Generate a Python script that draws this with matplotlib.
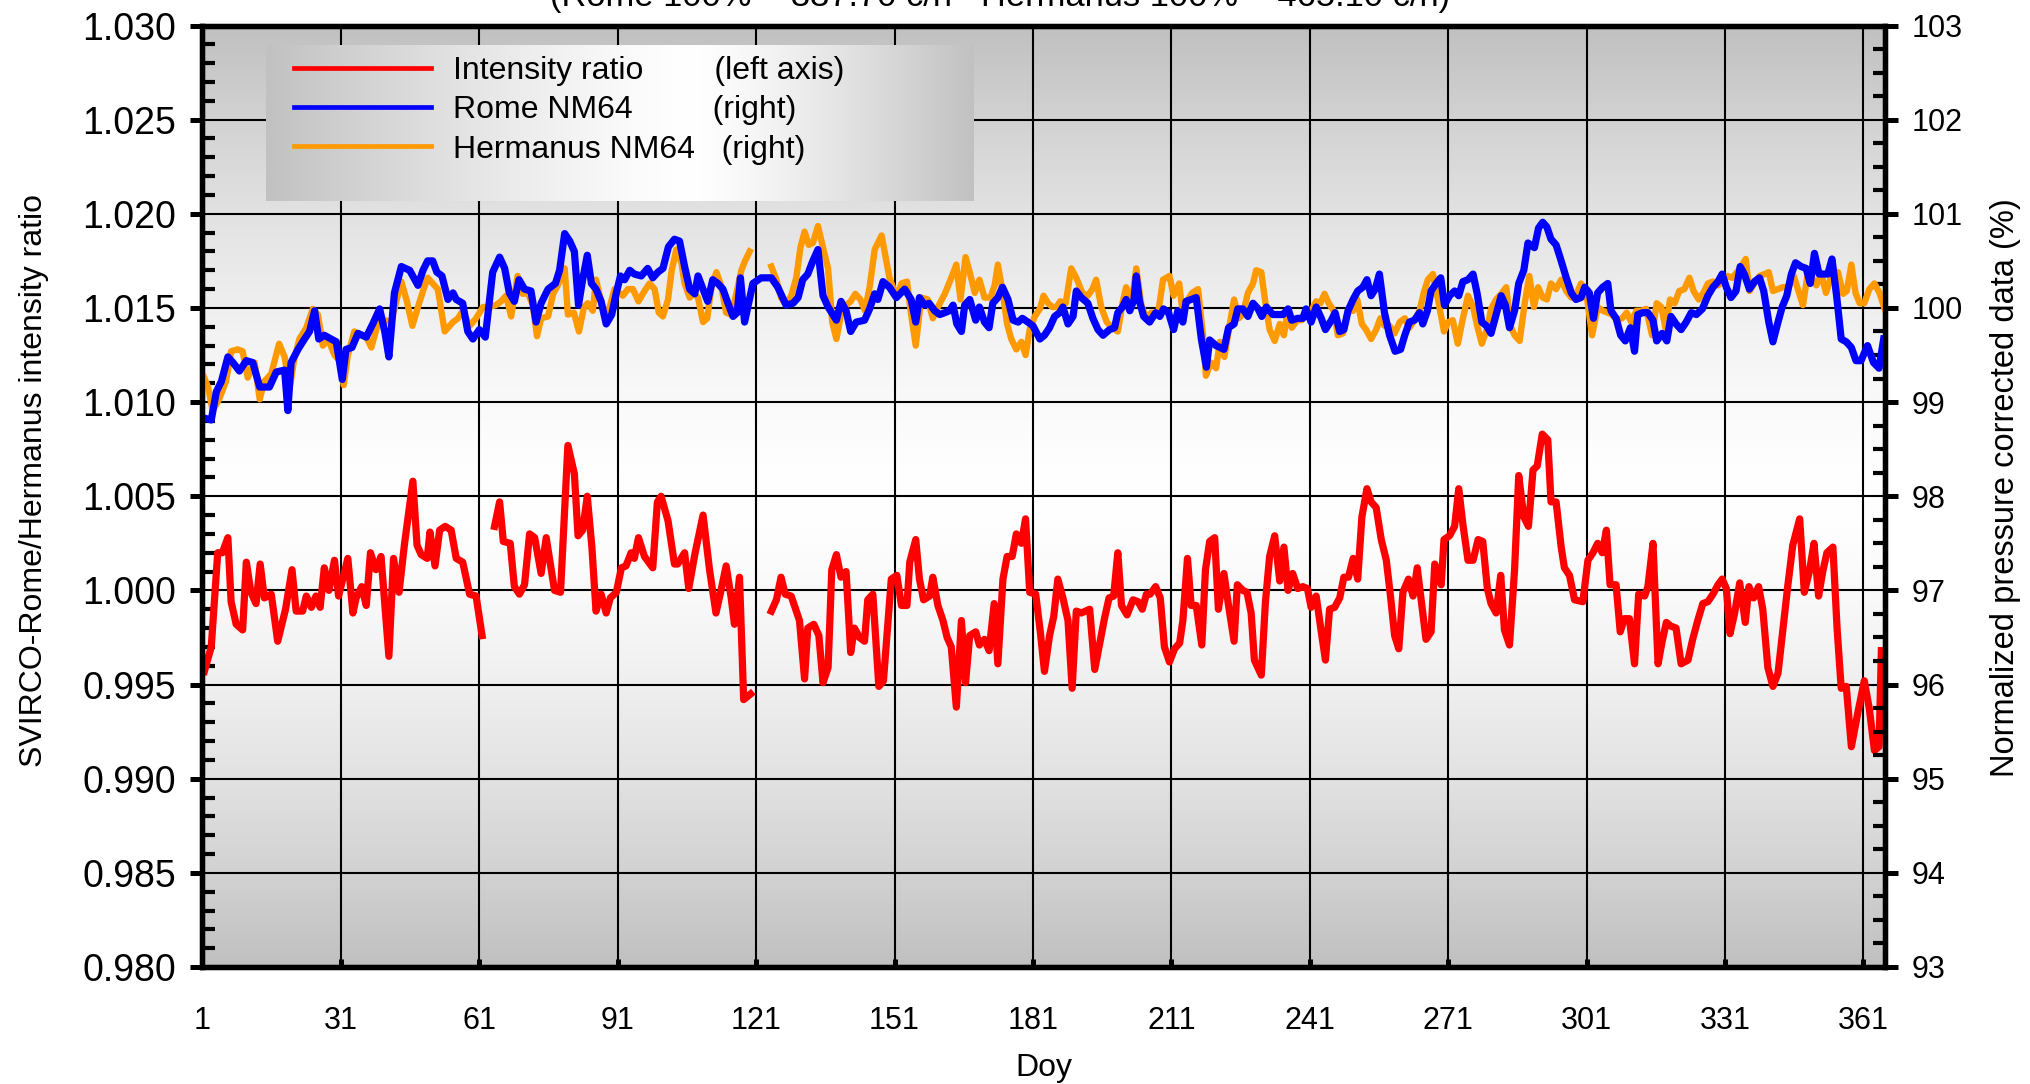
import numpy as np
import matplotlib
matplotlib.use("Agg")
import matplotlib.pyplot as plt
from matplotlib.lines import Line2D
from matplotlib.ticker import MultipleLocator, FixedLocator

plt.rcParams["font.family"] = ["Liberation Sans", "DejaVu Sans"]

# ── Data ───────────────────────────────────────────────────────────────────

# SVIRCO-Rome / Hermanus intensity ratio (left axis); NaN = data gap
ratio_doy = [1.4, 2.9, 4.3, 5.3, 6.5, 7.2, 8.3, 9.7, 10.5, 11.5, 12.6, 13.5, 14.4, 15.9, 17.3, 19.0,
             20.4, 21.3, 22.7, 23.5, 24.6, 25.6, 26.5, 27.4, 28.4, 29.6, 30.5, 32.5, 33.6, 34.3, 35.5,
             36.5, 37.4, 38.6, 39.7, 41.4, 42.4, 43.6, 44.8, 46.6, 47.5, 48.4, 49.7, 50.3, 51.4, 52.4,
             53.6, 54.9, 56.0, 57.4, 58.9, 60.3, 61.6, 63.0, 64.3, 65.4, 66.2, 67.7, 68.6, 69.7, 70.8,
             71.9, 73.0, 74.4, 75.5, 77.3, 78.6, 80.2, 81.6, 82.4, 83.4, 84.4, 85.4, 86.3, 87.4, 88.5,
             89.4, 90.7, 91.8, 92.8, 93.9, 94.6, 95.5, 96.8, 98.6, 99.6, 100.4, 101.9, 103.3, 104.0,
             105.5, 106.4, 107.7, 109.5, 110.9, 112.3, 113.3, 114.5, 115.6, 116.3, 117.4, 118.3, 119.8,
             122.0, 124.3, 125.4, 126.4, 127.3, 128.6, 130.4, 131.5, 132.2, 133.5, 134.6, 135.5, 136.6,
             137.4, 138.4, 139.4, 140.5, 141.5, 142.3, 143.4, 144.5, 145.2, 146.3, 147.6, 148.6, 150.3,
             151.5, 152.5, 153.7, 154.3, 155.6, 156.4, 157.3, 158.6, 159.3, 160.4, 161.5, 162.4, 163.3,
             164.4, 165.5, 166.4, 167.3, 168.6, 169.4, 170.5, 171.5, 172.6, 173.4, 174.5, 175.4, 176.5,
             177.4, 178.5, 179.4, 180.3, 181.6, 182.6, 183.5, 184.6, 185.5, 186.4, 187.5, 188.6, 189.5,
             190.4, 191.5, 193.3, 194.4, 195.5, 196.5, 197.5, 198.5, 199.4, 200.2, 201.4, 202.7, 203.8,
             204.7, 205.6, 206.4, 207.6, 208.6, 209.5, 210.6, 211.7, 212.8, 213.5, 214.5, 215.3, 216.4,
             217.6, 218.4, 219.3, 220.4, 221.2, 222.4, 223.4, 224.6, 225.3, 226.5, 227.4, 228.3, 229.0,
             230.5, 231.4, 232.3, 233.4, 234.5, 235.4, 236.3, 237.3, 238.4, 239.5, 240.5, 241.3, 242.4,
             243.5, 244.4, 245.3, 246.4, 247.5, 248.4, 249.4, 250.4, 251.4, 252.3, 253.4, 254.3, 255.4,
             256.5, 257.6, 258.5, 259.4, 260.3, 261.2, 262.4, 263.4, 264.3, 265.3, 266.2, 267.3, 268.1,
             269.5, 270.1, 271.3, 272.4, 273.3, 274.2, 275.3, 276.4, 277.5, 278.5, 279.5, 280.3, 281.4,
             282.4, 283.2, 284.3, 285.4, 286.3, 287.4, 288.4, 289.4, 290.3, 291.4, 292.6, 293.3, 294.4,
             295.5, 296.2, 297.3, 298.4, 300.2, 301.3, 302.4, 303.4, 304.4, 305.3, 306.1, 307.4, 308.3,
             309.2, 310.3, 311.4, 312.3, 313.6, 314.3, 315.4, 316.5, 317.4, 318.3, 319.3, 320.4, 321.5,
             323.0, 324.0, 325.1, 326.2, 327.3, 328.4, 329.5, 330.4, 331.3, 332.1, 333.1, 334.2, 335.4,
             336.2, 337.2, 338.3, 339.2, 340.3, 341.4, 342.5, 343.5, 344.6, 345.7, 347.2, 348.2, 349.3,
             350.3, 351.3, 352.2, 353.1, 354.4, 355.3, 356.2, 357.3, 358.4, 359.8, 361.2, 362.3, 363.4,
             364.4, 364.9]
ratio_val = [0.9957, 0.9970, 1.0020, 1.0020, 1.0028, 0.9994, 0.9982, 0.9979, 1.0015, 0.9999, 0.9993,
             1.0014, 0.9996, 0.9998, 0.9973, 0.9990, 1.0011, 0.9989, 0.9989, 0.9997, 0.9991, 0.9997,
             0.9991, 1.0012, 1.0000, 1.0016, 0.9997, 1.0017, 0.9988, 0.9996, 1.0002, 0.9992, 1.0020,
             1.0011, 1.0018, 0.9965, 1.0017, 0.9999, 1.0025, 1.0058, 1.0024, 1.0019, 1.0017, 1.0031,
             1.0013, 1.0032, 1.0034, 1.0032, 1.0017, 1.0015, 0.9998, 0.9997, 0.9976, np.nan, 1.0034,
             1.0047, 1.0026, 1.0025, 1.0002, 0.9998, 1.0003, 1.0030, 1.0028, 1.0009, 1.0028, 1.0000,
             0.9999, 1.0077, 1.0062, 1.0029, 1.0032, 1.0050, 1.0023, 0.9989, 0.9998, 0.9988, 0.9996,
             0.9999, 1.0012, 1.0013, 1.0020, 1.0017, 1.0028, 1.0018, 1.0012, 1.0047, 1.0050, 1.0037,
             1.0014, 1.0014, 1.0020, 1.0001, 1.0019, 1.0040, 1.0011, 0.9988, 0.9999, 1.0013, 0.9996,
             0.9982, 1.0007, 0.9942, 0.9945, np.nan, 0.9989, 0.9995, 1.0007, 0.9998, 0.9997, 0.9984,
             0.9953, 0.9980, 0.9982, 0.9976, 0.9951, 0.9959, 1.0011, 1.0019, 1.0007, 1.0010, 0.9967,
             0.9980, 0.9975, 0.9973, 0.9995, 0.9998, 0.9949, 0.9952, 1.0006, 1.0008, 0.9992, 0.9992,
             1.0015, 1.0027, 1.0006, 0.9995, 0.9997, 1.0007, 0.9992, 0.9984, 0.9975, 0.9970, 0.9938,
             0.9984, 0.9951, 0.9976, 0.9978, 0.9971, 0.9974, 0.9968, 0.9993, 0.9961, 1.0006, 1.0018,
             1.0018, 1.0030, 1.0025, 1.0038, 0.9999, 0.9998, 0.9978, 0.9957, 0.9976, 0.9986, 1.0006,
             0.9996, 0.9984, 0.9948, 0.9989, 0.9988, 0.9990, 0.9958, 0.9972, 0.9985, 0.9996, 0.9997,
             1.0020, 0.9992, 0.9987, 0.9995, 0.9994, 0.9990, 0.9998, 0.9998, 1.0002, 0.9996, 0.9970,
             0.9962, 0.9969, 0.9972, 0.9984, 1.0017, 0.9992, 0.9992, 0.9971, 1.0011, 1.0026, 1.0028,
             0.9990, 1.0009, 0.9992, 0.9973, 1.0003, 1.0000, 0.9999, 0.9988, 0.9963, 0.9955, 0.9994,
             1.0018, 1.0029, 1.0005, 1.0023, 1.0000, 1.0009, 1.0001, 1.0002, 1.0001, 0.9991, 0.9997,
             0.9978, 0.9963, 0.9990, 0.9991, 0.9996, 1.0007, 1.0007, 1.0017, 1.0006, 1.0039, 1.0054,
             1.0047, 1.0044, 1.0027, 1.0016, 0.9997, 0.9976, 0.9969, 0.9999, 1.0006, 0.9997, 1.0012,
             0.9992, 0.9974, 0.9978, 1.0014, 1.0003, 1.0027, 1.0029, 1.0034, 1.0054, 1.0035, 1.0016,
             1.0016, 1.0027, 1.0026, 1.0001, 0.9993, 0.9988, 1.0008, 0.9979, 0.9971, 1.0011, 1.0061,
             1.0039, 1.0034, 1.0064, 1.0066, 1.0083, 1.0080, 1.0047, 1.0047, 1.0023, 1.0012, 1.0008,
             0.9995, 0.9994, 1.0016, 1.0020, 1.0025, 1.0020, 1.0032, 1.0003, 1.0003, 0.9978, 0.9985,
             0.9985, 0.9961, 0.9998, 0.9997, 1.0002, 1.0025, 0.9961, 0.9973, 0.9983, 0.9981, 0.9980,
             0.9961, 0.9963, 0.9974, 0.9984, 0.9993, 0.9994, 0.9998, 1.0003, 1.0006, 1.0001, 0.9977,
             0.9988, 1.0004, 0.9983, 1.0002, 0.9996, 1.0002, 0.9990, 0.9959, 0.9949, 0.9956, 0.9978,
             1.0002, 1.0024, 1.0038, 0.9999, 1.0010, 1.0025, 0.9997, 1.0010, 1.0020, 1.0023, 0.9980,
             0.9948, 0.9949, 0.9917, 0.9935, 0.9952, 0.9937, 0.9915, 0.9917, 0.9968]

# Rome NM64, normalized pressure corrected (%), right axis
rome_doy = [1.4, 2.9, 4.0, 5.1, 6.5, 7.6, 9.0, 10.5, 11.9, 13.4, 15.5, 17.0, 18.8, 19.5, 20.2, 21.7,
            23.1, 24.2, 25.3, 26.2, 27.4, 28.9, 30.0, 31.3, 32.1, 33.4, 34.7, 36.5, 37.9, 39.4, 40.5,
            41.4, 42.6, 44.1, 45.9, 47.7, 48.8, 49.8, 50.9, 51.8, 52.9, 54.2, 55.3, 56.0, 57.4, 58.5,
            59.6, 61.0, 62.3, 63.9, 65.4, 66.5, 67.5, 68.6, 69.6, 70.8, 72.2, 73.3, 74.4, 75.9, 77.5,
            78.4, 79.5, 80.6, 81.6, 82.5, 83.4, 84.4, 85.3, 86.3, 87.4, 88.5, 89.7, 90.7, 91.6, 92.5,
            93.6, 94.6, 96.1, 97.5, 98.6, 99.7, 100.8, 102.0, 103.3, 104.4, 105.5, 106.6, 107.7, 108.4,
            109.5, 110.5, 111.6, 112.7, 113.8, 114.9, 116.0, 116.9, 117.6, 118.5, 120.3, 122.1, 124.3,
            125.7, 127.5, 129.0, 130.1, 131.1, 132.2, 133.3, 134.4, 135.5, 136.6, 138.4, 139.4, 140.5,
            141.5, 142.7, 144.5, 145.6, 146.7, 147.4, 148.5, 149.9, 151.4, 153.2, 154.6, 155.6, 156.4,
            157.5, 158.5, 159.7, 160.8, 161.9, 162.9, 163.7, 164.5, 165.5, 166.2, 167.3, 168.6, 169.4,
            170.5, 171.5, 172.3, 173.4, 174.4, 175.6, 176.7, 177.8, 178.7, 179.9, 181.0, 182.5, 183.5,
            184.6, 185.7, 186.8, 187.5, 188.6, 189.7, 190.4, 191.5, 192.9, 194.0, 195.1, 196.2, 197.6,
            198.7, 199.4, 200.4, 201.2, 202.0, 202.9, 203.4, 204.1, 205.0, 206.3, 207.6, 208.5, 209.3,
            210.4, 211.5, 212.4, 213.5, 214.2, 215.3, 216.4, 217.5, 218.6, 219.3, 220.7, 222.4, 223.4,
            224.6, 225.4, 226.5, 227.6, 228.7, 229.8, 230.6, 231.6, 233.0, 235.2, 236.3, 237.1, 238.4,
            239.5, 240.2, 241.3, 242.4, 243.5, 244.4, 245.7, 246.5, 247.5, 248.4, 249.3, 250.4, 251.4,
            252.5, 253.4, 254.3, 255.2, 256.1, 257.2, 258.3, 259.5, 260.7, 261.6, 262.6, 263.7, 264.8,
            265.5, 266.5, 267.3, 268.4, 269.4, 270.2, 271.3, 272.4, 273.3, 274.2, 275.3, 276.4, 277.3,
            278.3, 279.3, 280.3, 281.4, 282.5, 283.4, 284.3, 285.4, 286.3, 287.4, 288.3, 289.7, 290.6,
            291.5, 292.4, 293.3, 294.4, 295.5, 296.6, 297.7, 298.7, 299.8, 300.6, 301.6, 302.5, 303.4,
            304.5, 305.6, 306.3, 307.4, 308.4, 309.4, 310.5, 311.4, 312.1, 313.2, 314.3, 315.4, 316.2,
            317.4, 318.4, 319.3, 320.4, 321.5, 322.6, 323.7, 324.8, 326.1, 327.3, 328.4, 329.5, 330.4,
            331.3, 332.3, 333.4, 334.3, 335.2, 336.3, 337.4, 338.5, 339.4, 340.5, 341.4, 342.5, 343.4,
            344.4, 345.4, 346.3, 347.5, 348.6, 349.5, 350.4, 351.4, 352.2, 353.3, 354.2, 355.2, 356.2,
            357.3, 358.4, 359.4, 360.5, 361.9, 363.2, 364.4, 365.4]
rome_val = [98.83, 98.81, 99.11, 99.22, 99.48, 99.42, 99.33, 99.44, 99.42, 99.16, 99.16, 99.32, 99.34,
            98.91, 99.42, 99.56, 99.67, 99.75, 99.97, 99.67, 99.71, 99.67, 99.64, 99.24, 99.56, 99.58,
            99.73, 99.69, 99.83, 99.99, 99.75, 99.48, 100.16, 100.44, 100.40, 100.24, 100.40, 100.50,
            100.50, 100.38, 100.34, 100.09, 100.16, 100.09, 100.05, 99.75, 99.67, 99.77, 99.69, 100.38,
            100.54, 100.42, 100.16, 100.07, 100.30, 100.20, 100.18, 99.85, 100.05, 100.20, 100.26,
            100.40, 100.79, 100.71, 100.60, 100.03, 100.30, 100.56, 100.26, 100.20, 100.07, 99.83,
            99.93, 100.16, 100.34, 100.30, 100.40, 100.36, 100.34, 100.42, 100.32, 100.38, 100.42,
            100.65, 100.73, 100.71, 100.44, 100.20, 100.15, 100.34, 100.20, 100.07, 100.30, 100.26,
            100.20, 100.05, 99.91, 99.95, 100.32, 99.85, 100.26, 100.32, 100.32, 100.22, 100.03, 100.05,
            100.11, 100.30, 100.36, 100.50, 100.62, 100.13, 100.01, 99.87, 100.07, 99.97, 99.75, 99.85,
            99.87, 99.99, 100.15, 100.09, 100.28, 100.22, 100.11, 100.20, 100.09, 99.85, 100.11, 100.03,
            100.05, 99.97, 99.93, 99.95, 99.97, 100.03, 99.83, 99.75, 100.03, 100.09, 99.87, 100.01,
            99.85, 99.79, 100.05, 100.11, 100.22, 100.09, 99.87, 99.85, 99.89, 99.85, 99.81, 99.67,
            99.71, 99.79, 99.91, 99.95, 100.01, 99.83, 99.91, 100.18, 100.11, 100.05, 99.89, 99.77,
            99.71, 99.77, 99.79, 99.95, 100.01, 100.09, 99.97, 100.09, 100.34, 100.07, 99.91, 99.85,
            99.95, 99.91, 99.99, 99.95, 99.77, 99.97, 99.85, 100.07, 100.09, 100.11, 99.67, 99.37,
            99.66, 99.60, 99.56, 99.79, 99.83, 99.99, 99.99, 99.91, 100.05, 99.99, 99.91, 100.01, 99.93,
            99.93, 99.99, 99.87, 99.89, 99.89, 99.99, 99.85, 100.01, 99.89, 99.77, 99.87, 99.95, 99.75,
            99.77, 99.97, 100.09, 100.18, 100.22, 100.30, 100.13, 100.20, 100.36, 99.95, 99.71, 99.54,
            99.56, 99.71, 99.85, 99.87, 99.95, 99.83, 99.97, 100.18, 100.26, 100.32, 100.03, 100.13,
            100.18, 100.13, 100.28, 100.30, 100.36, 100.15, 99.85, 99.81, 99.73, 99.93, 100.13, 100.03,
            99.79, 99.97, 100.26, 100.40, 100.69, 100.64, 100.85, 100.91, 100.86, 100.73, 100.67,
            100.50, 100.32, 100.16, 100.09, 100.11, 100.22, 100.16, 99.89, 100.16, 100.22, 100.26,
            99.97, 99.89, 99.71, 99.65, 99.79, 99.54, 99.93, 99.95, 99.95, 99.87, 99.65, 99.73, 99.65,
            99.91, 99.83, 99.77, 99.85, 99.95, 99.93, 99.99, 100.13, 100.22, 100.28, 100.36, 100.22,
            100.11, 100.18, 100.44, 100.36, 100.20, 100.28, 100.32, 100.18, 99.85, 99.64, 99.85,
            100.01, 100.13, 100.36, 100.48, 100.44, 100.42, 100.26, 100.58, 100.36, 100.36, 100.36,
            100.52, 100.13, 99.67, 99.64, 99.58, 99.44, 99.44, 99.60, 99.42, 99.36, 99.67]

# Hermanus NM64, normalized pressure corrected (%), right axis; NaN = data gap
herm_doy = [1.2, 2.2, 3.2, 4.6, 6.1, 7.2, 8.6, 9.7, 10.8, 12.3, 13.4, 14.4, 15.9, 17.6, 18.8, 19.9,
            20.9, 22.0, 23.5, 24.9, 26.0, 27.1, 28.2, 29.6, 30.7, 31.6, 32.5, 33.9, 35.4, 36.5, 37.6,
            39.0, 40.5, 41.9, 43.0, 44.1, 45.2, 46.5, 47.7, 48.8, 49.8, 50.9, 52.0, 53.5, 55.3, 56.4,
            57.4, 58.9, 60.3, 61.8, 63.2, 64.6, 65.7, 66.8, 67.9, 69.3, 70.4, 71.5, 72.6, 73.5, 74.4,
            75.9, 77.0, 78.0, 79.5, 80.2, 81.5, 82.6, 83.7, 84.5, 85.6, 86.3, 87.4, 88.5, 90.3, 92.1,
            93.2, 94.3, 95.5, 96.8, 97.9, 99.0, 99.9, 100.8, 101.9, 102.7, 103.7, 104.8, 105.5, 106.6,
            107.5, 108.4, 109.5, 110.4, 111.3, 112.4, 113.4, 114.5, 115.6, 116.7, 117.8, 118.6, 119.6,
            122.0, 124.3, 125.4, 126.4, 127.5, 128.6, 129.7, 130.6, 131.5, 132.4, 133.3, 134.4, 135.7,
            136.6, 137.5, 138.4, 139.4, 140.5, 141.5, 142.5, 143.6, 144.6, 145.6, 146.7, 148.2, 149.9,
            151.5, 152.5, 153.7, 154.6, 155.6, 156.8, 158.2, 159.3, 160.4, 161.9, 163.3, 164.4, 165.3,
            166.4, 167.4, 168.4, 169.4, 170.5, 171.8, 172.7, 173.4, 174.4, 175.4, 176.3, 177.4, 178.5,
            179.4, 180.3, 181.4, 182.5, 183.3, 184.3, 185.2, 186.1, 186.9, 188.1, 189.3, 190.4, 191.7,
            192.9, 193.9, 194.7, 195.8, 197.0, 198.2, 199.4, 200.4, 201.2, 202.3, 203.4, 204.5, 205.6,
            206.7, 208.1, 209.2, 210.6, 211.5, 212.7, 213.5, 214.6, 215.5, 216.8, 217.9, 218.5, 219.6,
            220.7, 221.5, 222.5, 223.6, 224.6, 225.6, 226.5, 227.6, 228.7, 229.4, 230.5, 231.4, 232.3,
            233.4, 234.5, 235.4, 236.3, 237.1, 238.3, 239.3, 240.2, 241.3, 242.4, 243.3, 244.2, 245.1,
            246.2, 247.1, 248.2, 249.3, 250.4, 251.3, 252.3, 253.2, 254.3, 255.4, 256.3, 257.2, 258.3,
            259.4, 260.5, 261.6, 262.6, 263.7, 264.8, 265.7, 266.6, 267.7, 268.8, 270.1, 271.0, 272.0,
            273.1, 274.2, 275.3, 276.4, 277.3, 278.3, 279.5, 280.3, 281.4, 282.5, 283.6, 284.5, 285.4,
            286.5, 287.6, 288.6, 289.6, 290.5, 291.5, 292.4, 293.3, 294.4, 295.5, 296.6, 297.7, 298.9,
            299.8, 300.9, 302.2, 303.4, 304.5, 305.6, 306.5, 307.6, 308.7, 309.7, 310.7, 311.8, 312.8,
            313.9, 315.2, 316.2, 317.2, 318.1, 319.1, 320.1, 321.1, 322.2, 323.3, 324.2, 325.3, 326.3,
            327.3, 328.4, 329.5, 330.5, 331.6, 332.6, 333.6, 334.5, 335.5, 336.3, 337.4, 338.5, 339.6,
            340.5, 341.4, 342.5, 343.5, 344.8, 345.9, 346.8, 347.9, 349.0, 349.9, 350.8, 351.9, 352.9,
            354.2, 355.5, 356.6, 357.4, 358.4, 359.3, 360.2, 361.2, 362.3, 363.4, 364.5, 365.6]
herm_val = [99.28, 99.16, 98.91, 99.03, 99.22, 99.54, 99.56, 99.54, 99.26, 99.42, 99.03, 99.22, 99.30,
            99.62, 99.48, 99.15, 99.46, 99.67, 99.79, 99.99, 99.93, 99.60, 99.67, 99.50, 99.44, 99.18,
            99.50, 99.75, 99.71, 99.69, 99.58, 99.83, 99.87, 99.85, 100.07, 100.28, 100.09, 99.81,
            100.01, 100.18, 100.32, 100.26, 100.20, 99.75, 99.85, 99.89, 99.97, 99.81, 99.89, 100.01,
            100.01, 100.03, 100.07, 100.13, 99.91, 100.34, 100.15, 100.16, 100.03, 99.70, 99.89, 99.91,
            100.15, 100.24, 100.42, 99.93, 99.95, 99.75, 100.01, 100.05, 99.97, 100.30, 100.07, 99.87,
            100.20, 100.13, 100.20, 100.20, 100.07, 100.18, 100.26, 100.20, 99.95, 99.91, 100.09,
            100.40, 100.62, 100.48, 100.26, 100.11, 100.16, 100.11, 99.85, 99.89, 100.22, 100.38,
            100.24, 99.95, 99.93, 100.15, 100.40, 100.50, 100.60, np.nan, 100.44, 100.30, 100.11,
            100.03, 100.13, 100.32, 100.64, 100.81, 100.67, 100.69, 100.87, 100.60, 100.42, 99.85,
            99.67, 99.93, 100.03, 100.07, 100.15, 100.09, 99.97, 100.22, 100.62, 100.77, 100.32, 100.11,
            100.26, 100.28, 99.93, 99.60, 100.11, 100.09, 99.89, 100.01, 100.15, 100.32, 100.46, 100.09,
            100.54, 100.36, 100.16, 100.30, 100.11, 100.11, 100.24, 100.46, 100.18, 99.83, 99.67, 99.56,
            99.64, 99.50, 99.77, 99.91, 99.99, 100.13, 100.05, 100.01, 100.01, 100.07, 100.05, 100.42,
            100.32, 100.16, 100.13, 100.20, 100.30, 100.01, 99.85, 99.79, 99.75, 100.05, 100.22, 100.03,
            100.42, 100.03, 99.89, 99.95, 99.93, 100.30, 100.34, 100.13, 100.26, 99.93, 100.09, 100.16,
            100.20, 99.69, 99.28, 99.42, 99.36, 99.64, 99.48, 99.81, 100.09, 99.89, 99.93, 100.16,
            100.26, 100.40, 100.38, 100.05, 99.77, 99.65, 99.83, 99.71, 99.99, 99.79, 99.87, 99.87,
            99.93, 99.97, 100.07, 100.05, 100.15, 100.05, 99.97, 99.71, 99.73, 99.97, 99.97, 100.09,
            99.83, 99.77, 99.67, 99.77, 99.89, 99.81, 99.81, 99.73, 99.85, 99.89, 99.79, 99.87, 99.97,
            100.16, 100.30, 100.36, 100.09, 99.75, 99.85, 99.87, 99.62, 99.89, 100.13, 100.01, 99.81,
            99.62, 99.79, 99.99, 100.09, 100.15, 100.22, 99.81, 99.71, 99.65, 100.05, 100.34, 100.01,
            100.22, 100.11, 100.09, 100.26, 100.20, 100.30, 100.18, 100.11, 100.16, 100.26, 100.18,
            99.71, 100.01, 99.97, 99.95, 99.93, 99.87, 99.89, 99.95, 99.85, 99.97, 99.97, 99.99, 99.71,
            100.05, 100.01, 99.79, 100.09, 100.05, 100.18, 100.20, 100.32, 100.18, 100.09, 100.16,
            100.26, 100.28, 100.24, 100.28, 100.34, 100.32, 100.38, 100.44, 100.52, 100.18, 100.26,
            100.34, 100.36, 100.38, 100.18, 100.20, 100.22, 100.22, 100.34, 100.20, 100.03, 100.38,
            100.32, 100.24, 100.36, 100.16, 100.36, 100.38, 100.15, 100.18, 100.46, 100.16, 100.05,
            100.05, 100.20, 100.26, 100.16, 99.99]

doy_ticks = list(range(1, 362, 30))
title_text = "(Rome 100% = 337.70 c/h   Hermanus 100% = 465.10 c/h)"

# ── Figure ─────────────────────────────────────────────────────────────────

W, H = 2031, 1084
fig = plt.figure(figsize=(W / 100, H / 100), dpi=100)
ax = fig.add_axes([202.5 / W, 1 - 967 / H, 1683 / W, 941.5 / H])
ax2 = ax.twinx()

# vertical grey -> white -> grey background
t = np.abs(np.linspace(-1, 1, 400))
shade = 1 - (63 / 255) * t ** 1.5
bg = np.repeat(shade[:, None, None], 3, axis=2)
ax.imshow(bg, extent=(0, 1, 0, 1), transform=ax.transAxes, aspect="auto",
          interpolation="bilinear", zorder=-5)

ax.plot(ratio_doy, ratio_val, color="#ff0000", lw=5.2, solid_joinstyle="round")
ax2.plot(herm_doy, herm_val, color="#ff9900", lw=4.6, solid_joinstyle="round")
ax2.plot(rome_doy, rome_val, color="#0000ff", lw=5.2, solid_joinstyle="round")

ax.set_xlim(1, 365.8)
ax.set_ylim(0.980, 1.030)
ax2.set_ylim(93, 103)

ax.xaxis.set_major_locator(FixedLocator(doy_ticks))
ax.yaxis.set_major_locator(MultipleLocator(0.005))
ax.yaxis.set_minor_locator(MultipleLocator(0.001))
ax.yaxis.set_major_formatter(plt.FormatStrFormatter("%.3f"))
ax2.yaxis.set_major_locator(MultipleLocator(1))
ax2.yaxis.set_minor_locator(MultipleLocator(0.25))

ax.grid(True, which="major", color="black", lw=1.5)

ax.tick_params(axis="y", which="major", direction="out", length=9, width=3.6,
               labelsize=27, pad=10, right=False)
ax.tick_params(axis="y", which="minor", direction="in", length=9, width=3, right=False)
ax.tick_params(axis="x", which="major", direction="in", length=6, width=3.6,
               labelsize=22, pad=28, top=False)
ax2.tick_params(axis="y", which="major", direction="out", length=9, width=3.6,
                labelsize=22, pad=10, left=False)
ax2.tick_params(axis="y", which="minor", direction="in", length=9, width=3, left=False)

for a in (ax, ax2):
    for sp in a.spines.values():
        sp.set_linewidth(3.8)

ax.set_xlabel("Doy", fontsize=23)
ax.xaxis.set_label_coords(0.5, -0.091)
ax.set_ylabel("SVIRCO-Rome/Hermanus intensity ratio", fontsize=23)
ax.yaxis.set_label_coords(-0.091, 0.517)
ax2.set_ylabel("Normalized pressure corrected data (%)", fontsize=23.5)
ax2.yaxis.set_label_coords(1.062, 0.509)

fig.text(1000 / W, 1 - 6 / H, title_text, fontsize=24.8, ha="center", va="baseline")

# ── Legend with horizontal gradient box ────────────────────────────────────

lx = np.linspace(0, 1, 500)
peak = 0.6
dist = np.where(lx < peak, (peak - lx) / peak, (lx - peak) / (1 - peak))
lshade = 1 - (62 / 255) * dist ** 1.3
lbg = np.repeat(lshade[None, :, None], 3, axis=2)
legax = fig.add_axes([266 / W, 1 - 201 / H, 708 / W, 156 / H])
legax.imshow(lbg, extent=(0, 1, 0, 1), aspect="auto", interpolation="bilinear")
legax.set_axis_off()
legax.set_zorder(3)

handles = [Line2D([], [], color="#ff0000", lw=3.4),
           Line2D([], [], color="#0000ff", lw=3.4),
           Line2D([], [], color="#ff9900", lw=3.4)]
labels = ["Intensity ratio        (left axis)",
          "Rome NM64         (right)",
          "Hermanus NM64   (right)"]
leg = fig.legend(handles, labels, loc="upper left", bbox_to_anchor=(294 / W, 1 - 56 / H),
                 frameon=False, fontsize=23, borderpad=0, borderaxespad=0,
                 handlelength=4.3, handletextpad=0.69, labelspacing=0.29)
leg.set_zorder(10)

fig.savefig("out.png", dpi=100)
